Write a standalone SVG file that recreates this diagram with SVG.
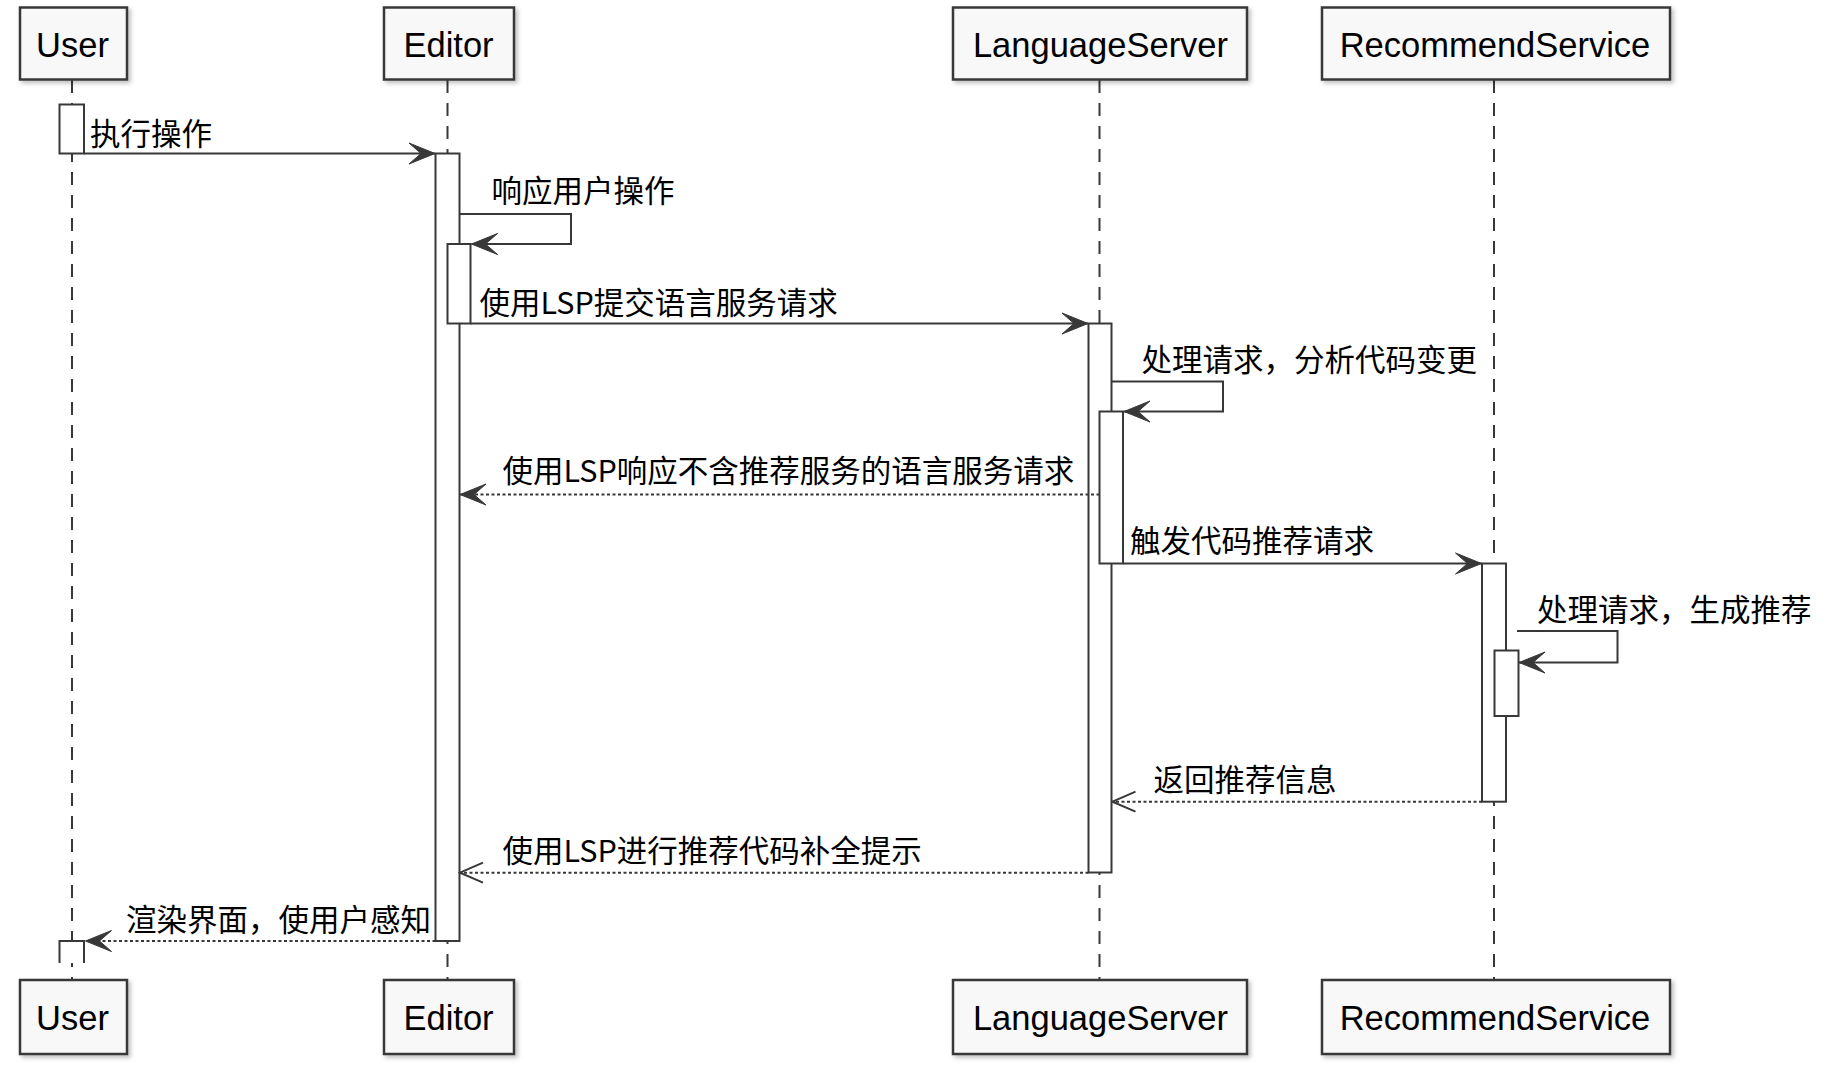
<svg xmlns="http://www.w3.org/2000/svg" width="1836" height="1077" viewBox="0 0 1836 1077">
<defs>
  <style>
    .bg{fill:#ffffff}
    .pbox{fill:#f8f8f8;stroke:#383838;stroke-width:2.5}
    .ptext{font-family:"Liberation Sans","Noto Sans",sans-serif;font-size:34.5px;fill:#000;text-anchor:middle}
    .life{stroke:#383838;stroke-width:2;stroke-dasharray:13,10;fill:none}
    .act{fill:#ffffff;stroke:#383838;stroke-width:2}
    .msg{stroke:#383838;stroke-width:2;fill:none}
    .dash{stroke-dasharray:3,2.5}
    .mtext{font-family:"Noto Sans CJK SC","Noto Sans",sans-serif;font-size:30.5px;fill:#000}
  </style>
  <filter id="shadow" x="-10%" y="-10%" width="130%" height="140%">
    <feDropShadow dx="2.5" dy="2.5" stdDeviation="2" flood-color="#000" flood-opacity="0.25"/>
  </filter>
  <marker id="filled" viewBox="-28 -12 30 24" refX="0" refY="0" markerWidth="30" markerHeight="24" markerUnits="userSpaceOnUse" orient="auto">
    <path d="M0,0 L-26,-10.5 L-14,0 L-26,10.5 Z" fill="#383838" stroke="#383838" stroke-width="1" stroke-linejoin="miter"/>
  </marker>
  <marker id="open" viewBox="-28 -12 30 24" refX="0" refY="0" markerWidth="30" markerHeight="24" markerUnits="userSpaceOnUse" orient="auto">
    <path d="M-23,-10 L0,0 L-23,10" fill="none" stroke="#383838" stroke-width="2"/>
  </marker>
</defs>
<rect class="bg" x="0" y="0" width="1836" height="1077"/>

<g id="lifelines">
  <line class="life" x1="72" y1="80" x2="72" y2="980"/>
  <line class="life" x1="447.5" y1="80" x2="447.5" y2="980"/>
  <line class="life" x1="1099.5" y1="80" x2="1099.5" y2="980"/>
  <line class="life" x1="1494" y1="80" x2="1494" y2="980"/>
</g>

<g id="participant-user">
  <rect class="pbox" filter="url(#shadow)" x="20" y="7.5" width="107" height="72"/>
  <text class="ptext" x="72.5" y="56.5">User</text>
  <rect class="pbox" filter="url(#shadow)" x="20" y="980" width="107" height="74"/>
  <text class="ptext" x="72.5" y="1029.5">User</text>
</g>
<g id="participant-editor">
  <rect class="pbox" filter="url(#shadow)" x="384" y="7.5" width="130" height="72"/>
  <text class="ptext" x="448.5" y="56.5">Editor</text>
  <rect class="pbox" filter="url(#shadow)" x="384" y="980" width="130" height="74"/>
  <text class="ptext" x="448.5" y="1029.5">Editor</text>
</g>
<g id="participant-languageserver">
  <rect class="pbox" filter="url(#shadow)" x="953" y="7.5" width="294" height="72"/>
  <text class="ptext" x="1100.5" y="56.5">LanguageServer</text>
  <rect class="pbox" filter="url(#shadow)" x="953" y="980" width="294" height="74"/>
  <text class="ptext" x="1100.5" y="1029.5">LanguageServer</text>
</g>
<g id="participant-recommendservice">
  <rect class="pbox" filter="url(#shadow)" x="1322" y="7.5" width="348" height="72"/>
  <text class="ptext" x="1495" y="56.5">RecommendService</text>
  <rect class="pbox" filter="url(#shadow)" x="1322" y="980" width="348" height="74"/>
  <text class="ptext" x="1495" y="1029.5">RecommendService</text>
</g>

<g id="activations">
  <rect id="act-user-1" class="act" x="59.5" y="104.5" width="24.5" height="49"/>
  <rect id="act-editor" class="act" x="435.5" y="153.5" width="24" height="787.5"/>
  <rect id="act-editor-nested" class="act" x="447.5" y="244" width="23" height="79.5"/>
  <rect id="act-ls" class="act" x="1088.5" y="323.5" width="23" height="549"/>
  <rect id="act-ls-nested" class="act" x="1099.5" y="411.5" width="23.5" height="152"/>
  <rect id="act-rs" class="act" x="1482" y="563.5" width="24" height="238.2"/>
  <rect id="act-rs-nested" class="act" x="1494.5" y="650.5" width="24" height="65.5"/>
  <path id="act-user-2" class="act" d="M59.5,963 V941 H84 V963"/>
</g>

<g id="connectors">
  <line class="msg" x1="84" y1="153.5" x2="435" y2="153.5" marker-end="url(#filled)"/>
  <path class="msg" d="M459.5,214 H571 V244 H471.5" marker-end="url(#filled)"/>
  <line class="msg" x1="470.5" y1="323.5" x2="1088" y2="323.5" marker-end="url(#filled)"/>
  <path class="msg" d="M1111.5,381.5 H1223 V411.5 H1124" marker-end="url(#filled)"/>
  <line class="msg dash" x1="1099.5" y1="494.5" x2="460" y2="494.5" marker-end="url(#filled)"/>
  <line class="msg" x1="1123" y1="563.5" x2="1481.5" y2="563.5" marker-end="url(#filled)"/>
  <path class="msg" d="M1517,631 H1617.5 V662.5 H1519" marker-end="url(#filled)"/>
  <line class="msg dash" x1="1482" y1="801.7" x2="1112.5" y2="801.7" marker-end="url(#open)"/>
  <line class="msg dash" x1="1088.5" y1="872.7" x2="460" y2="872.7" marker-end="url(#open)"/>
  <line class="msg dash" x1="435.5" y1="941" x2="85.5" y2="941" marker-end="url(#filled)"/>
</g>

<g id="labels">
  <text class="mtext" x="90" y="144.5">执行操作</text>
  <text class="mtext" x="491.5" y="202">响应用户操作</text>
  <text class="mtext" x="479.5" y="313.5">使用LSP提交语言服务请求</text>
  <text class="mtext" x="1141.5" y="371">处理请求，分析代码变更</text>
  <text class="mtext" x="502.5" y="482">使用LSP响应不含推荐服务的语言服务请求</text>
  <text class="mtext" x="1130" y="552">触发代码推荐请求</text>
  <text class="mtext" x="1537" y="621">处理请求，生成推荐</text>
  <text class="mtext" x="1153.5" y="791">返回推荐信息</text>
  <text class="mtext" x="502.5" y="861.5">使用LSP进行推荐代码补全提示</text>
  <text class="mtext" x="126" y="931">渲染界面，使用户感知</text>
</g>
</svg>
